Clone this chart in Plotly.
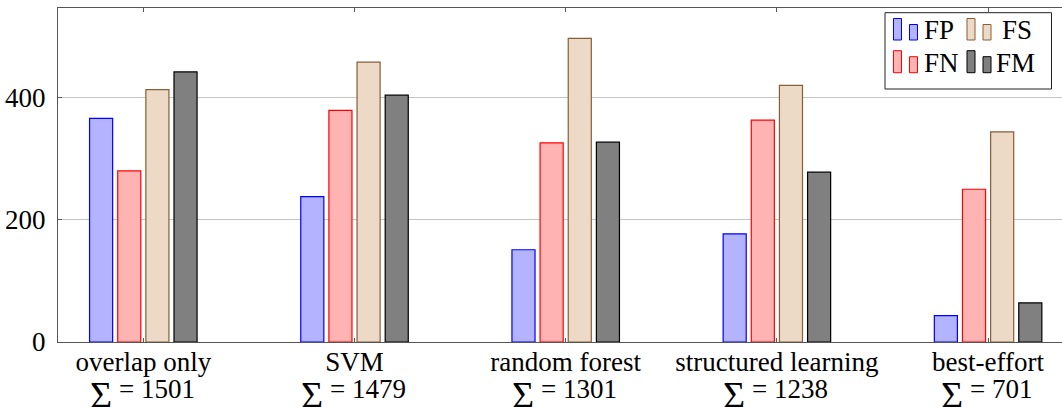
import plotly.graph_objects as go

categories = ["overlap only", "SVM", "random forest", "structured learning", "best-effort"]
totals = [1501, 1479, 1301, 1238, 701]
fp = [366, 238, 151, 177, 43]
fn = [280, 379, 326, 363, 250]
fs = [413, 458, 497, 420, 344]
fm = [442, 404, 327, 278, 64]
series_names = ["FP", "FN", "FS", "FM"]
y_ticks = [0, 200, 400]

fills = ["rgb(179,179,255)", "rgb(255,179,179)", "rgb(236,217,198)", "rgb(128,128,128)"]
lines = ["rgb(0,0,255)", "rgb(255,0,0)", "rgb(135,95,55)", "rgb(0,0,0)"]

FONT = "Liberation Serif"
FS_TICK = 27

fig = go.Figure()
for name, vals, fc, lc in zip(series_names, [fp, fn, fs, fm], fills, lines):
    fig.add_trace(go.Bar(
        x=list(range(len(categories))), y=vals, name=name,
        marker=dict(color=fc, line=dict(color=lc, width=1.2)),
        showlegend=False, hoverinfo="skip",
    ))

# plot area in pixels
L, R, T, B = 58, 1062, 8, 342
W, H = 1062, 407

fig.update_layout(
    width=W, height=H,
    margin=dict(l=L, r=W - R, t=T, b=H - B),
    paper_bgcolor="white", plot_bgcolor="white",
    barmode="group", bargap=0.467, bargroupgap=0.18,
    font=dict(family=FONT, size=FS_TICK, color="black"),
)
fig.update_xaxes(
    range=[-0.404, 4.35], automargin=False,
    tickmode="array", tickvals=list(range(len(categories))), ticktext=categories,
    ticks="inside", ticklen=4, tickcolor="#555", tickwidth=1,
    showline=True, linecolor="#555", linewidth=1, mirror="ticks",
    showgrid=False, zeroline=False,
    tickfont=dict(family=FONT, size=FS_TICK, color="black"),
    ticklabelstandoff=-4,
)
fig.update_yaxes(
    range=[0, 546.6], automargin=False,
    tickmode="array", tickvals=y_ticks, ticktext=[str(v) for v in y_ticks],
    ticks="inside", ticklen=4, tickcolor="#555", tickwidth=1,
    showline=True, linecolor="#555", linewidth=1, mirror=False,
    showgrid=True, gridcolor="#c4c4c4", gridwidth=1, zeroline=False,
    tickfont=dict(family=FONT, size=FS_TICK, color="black"),
    ticklabelstandoff=6,
)

def px(X):
    return (X - L) / (R - L)

def py(Y):
    return (B - Y) / (B - T)

# second label line: "Σ = total"
for i, t in enumerate(totals):
    n = len(str(t))
    w_eq = 0.564 * FS_TICK + 0.25 * FS_TICK + 0.5 * FS_TICK * n
    total_w = 25 + 6 + w_eq
    fig.add_annotation(xref="x", yref="paper", x=i, y=py(394.5), xshift=-total_w / 2 - 2,
                       text="\u03a3", showarrow=False, xanchor="left", yanchor="middle",
                       height=26, valign="middle",
                       font=dict(family=FONT, size=38, color="black"))
    fig.add_annotation(xref="x", yref="paper", x=i, y=py(389), xshift=-total_w / 2 + 27,
                       text=f"= {t}", showarrow=False, xanchor="left", yanchor="middle",
                       height=22, valign="middle",
                       font=dict(family=FONT, size=FS_TICK, color="black"))

# custom legend (pgfplots ybar legend style)
fig.add_shape(type="rect", xref="paper", yref="paper",
              x0=px(885), x1=px(1051.5), y0=py(89), y1=py(12.7),
              line=dict(color="#222", width=1), fillcolor="white", layer="above")

legend_items = [
    (0, 893.5, 18.5, 40, 925),   # FP
    (2, 967, 18.5, 40, 1003),     # FS
    (1, 893.5, 50.7, 72.7, 925),  # FN
    (3, 967, 50.7, 72.7, 996.5),  # FM
]
for idx, x0, ytop, ybot, tx in legend_items:
    fig.add_shape(type="rect", xref="paper", yref="paper",
                  x0=px(x0), x1=px(x0 + 8), y0=py(ybot), y1=py(ytop),
                  line=dict(color=lines[idx], width=1), fillcolor=fills[idx], layer="above")
    fig.add_shape(type="rect", xref="paper", yref="paper",
                  x0=px(x0 + 16), x1=px(x0 + 24), y0=py(ybot), y1=py(ytop + 6),
                  line=dict(color=lines[idx], width=1), fillcolor=fills[idx], layer="above")
    fig.add_annotation(xref="paper", yref="paper", x=px(tx - 3), y=py((ytop + ybot) / 2 + 1),
                       text=series_names[idx], showarrow=False, xanchor="left", yanchor="middle",
                       font=dict(family=FONT, size=27, color="black"))

fig.write_html("out.html", config={"displayModeBar": False},
               post_script="document.body.style.margin='0';document.body.style.overflow='hidden';")
